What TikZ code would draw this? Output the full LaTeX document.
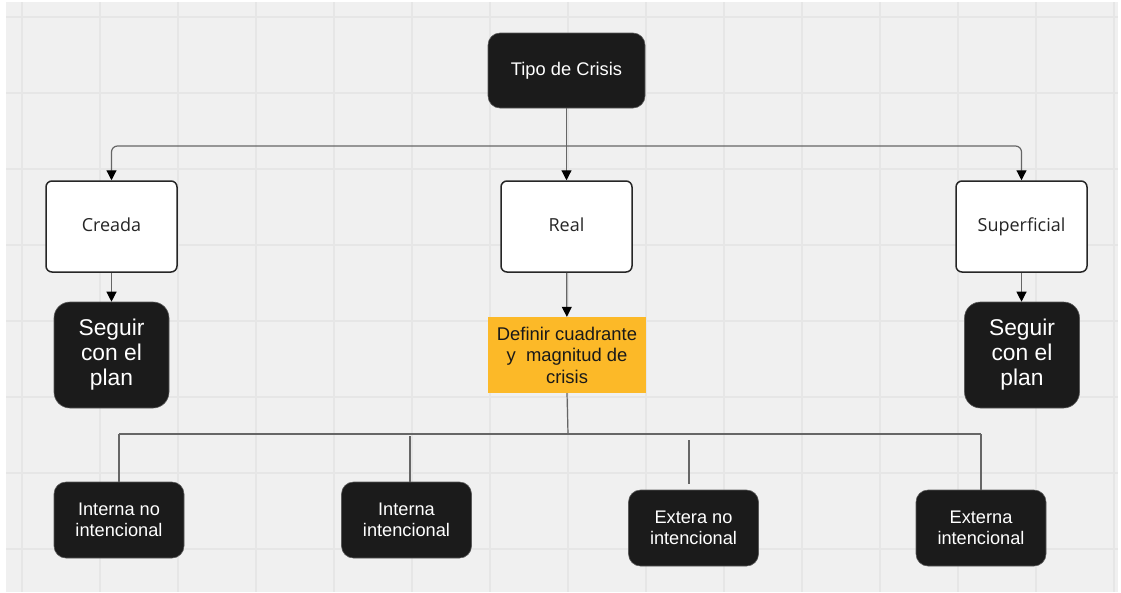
\documentclass[tikz,border=0pt]{standalone}
\usepackage{fontspec}
\setmainfont{Liberation Sans}
\newfontfamily\opensans{Open Sans}
\usetikzlibrary{arrows.meta,calc}
\definecolor{bg}{HTML}{F0F0F0}
\definecolor{gridc}{HTML}{E6E6E6}
\definecolor{boxblack}{HTML}{1B1B1B}
\definecolor{boxorange}{HTML}{FCB928}
\definecolor{linec}{HTML}{666666}
\newcommand{\uptext}[1]{\raisebox{4pt}{#1}}
\tikzset{
  darkbox/.style={draw=gray!70!black, line width=0.6pt, fill=boxblack, text=white, rounded corners=12pt, align=center, inner sep=0pt},
  whitebox/.style={draw=black!85, line width=1.5pt, fill=white, text=black!85, rounded corners=6pt, align=center, inner sep=0pt, font=\opensans\fontsize{18}{21}\selectfont, minimum width=131pt, minimum height=91pt},
  planbox/.style={darkbox, rounded corners=16pt, minimum width=115pt, minimum height=106pt, font=\fontsize{22.8}{25}\selectfont},
  leafbox/.style={darkbox, minimum width=130pt, minimum height=76pt, font=\fontsize{18.2}{20.5}\selectfont},
  orangebox/.style={fill=boxorange, text=black!90, align=center, inner sep=0pt, minimum width=158pt, minimum height=76pt, font=\fontsize{18.4}{21.5}\selectfont},
  conn/.style={draw=linec, line width=1.2pt},
  arr/.style={conn, -{Triangle[width=10pt,length=10pt,color=black]}},
}
\begin{document}
\begin{tikzpicture}[x=1pt,y=-1pt]
\useasboundingbox (0,0) rectangle (1121,592);
\fill[white] (0,0) rectangle (1121,592);
\fill[bg] (6,2) rectangle (1118,592);
\foreach \gx in {22,100,...,1114} \draw[gridc, line width=1.2pt] (\gx,2) -- (\gx,592);
\foreach \gy in {17,93,...,549} \draw[gridc, line width=1.2pt] (6,\gy) -- (1118,\gy);

\node[darkbox, minimum width=157pt, minimum height=75pt, font=\fontsize{18.3}{21}\selectfont] (tipo) at (566.5,70.5) {Tipo de Crisis};
\node[whitebox] (creada) at (111.5,226.5) {\uptext{Creada}};
\node[whitebox] (real) at (566.5,226.5) {\uptext{Real}};
\node[whitebox] (sup) at (1021.5,226.5) {\uptext{Superficial}};
\node[planbox] (seg1) at (111.5,355) {Seguir\\con el\\plan};
\node[planbox] (seg2) at (1022,355) {Seguir\\con el\\plan};
\node[orangebox] (def) at (567,355) {Definir cuadrante\\y\ \ magnitud de\\crisis};
\node[leafbox] (in1) at (119,520) {Interna no\\intencional};
\node[leafbox] (in2) at (406.5,520) {Interna\\intencional};
\node[leafbox] (ex1) at (693.5,528) {Extera no\\intencional};
\node[leafbox] (ex2) at (981,528) {Externa\\intencional};

% top connectors
\coordinate (bar) at (566.5,146);
\draw[arr] (tipo) -- (real);
\draw[arr, rounded corners=6pt] (bar) -| (creada.north);
\draw[arr, rounded corners=6pt] (bar) -| (sup.north);
\draw[arr] (creada) -- (seg1);
\draw[arr] (real) -- (def);
\draw[arr] (sup.south) -- (sup.south |- seg2.north);

% bottom connectors
\coordinate (hub) at (568,434);
\coordinate (lend) at (119,434);
\coordinate (rend) at (981,434);
\coordinate (t2) at (410,436);
\coordinate (t3) at (689,440);
\draw[conn] (def.south) -- (hub);
\draw[conn] (lend) -- (rend);
\draw[conn] (lend) -- (in1.north);
\draw[conn] (t2) -- (t2 |- in2.north);
\draw[conn] (t3) -- (689,484);
\draw[conn] (rend) -- (ex2.north);
\end{tikzpicture}
\end{document}
